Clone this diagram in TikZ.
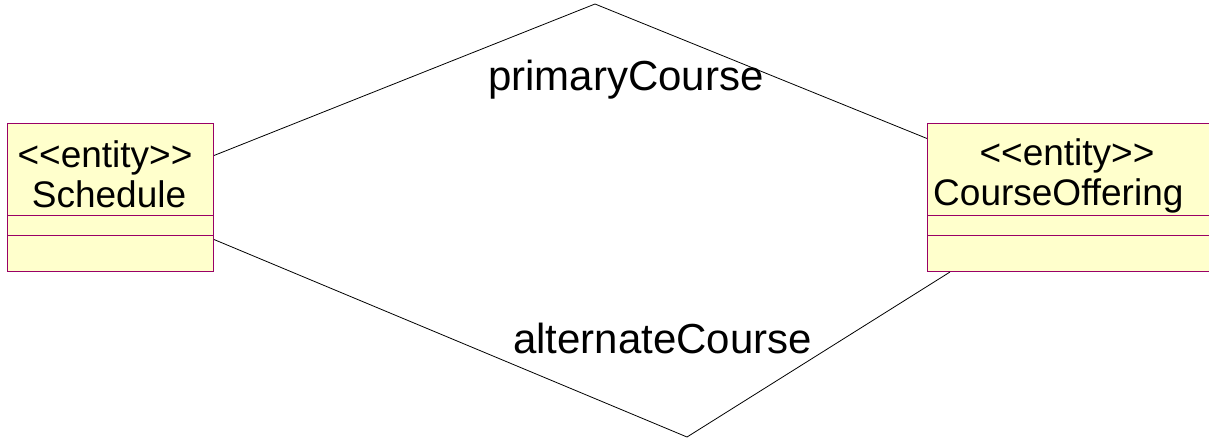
\documentclass[tikz,border=0pt]{standalone}
\usepackage{fontspec}
\setmainfont{Liberation Sans}[Ligatures=TeXOff]
\definecolor{umlfill}{RGB}{255,255,204}
\definecolor{umlborder}{RGB}{153,0,102}
\begin{document}
\begin{tikzpicture}[x=1pt,y=-1pt,
  classbox/.style={draw=umlborder,fill=umlfill,line width=1pt,inner sep=0pt,anchor=north west},
  divider/.style={draw=umlborder,line width=1pt},
  assoc/.style={draw=black,line width=0.8pt},
  classtext/.style={font=\fontsize{37}{40}\selectfont,inner sep=0pt},
  labeltext/.style={font=\fontsize{42}{46}\selectfont,inner sep=0pt,anchor=base west}]
\useasboundingbox (0,0) rectangle (1209,440);
\clip (0,0) rectangle (1209,440);
% classes
\node[classbox,minimum width=206pt,minimum height=148pt] (sched) at (7,123) {};
\node[classbox,minimum width=323pt,minimum height=148pt] (co) at (927,123) {};
\draw[divider] (sched.west |- 0,215) -- (sched.east |- 0,215);
\draw[divider] (sched.west |- 0,235) -- (sched.east |- 0,235);
\draw[divider] (co.west |- 0,215) -- (co.east |- 0,215);
\draw[divider] (co.west |- 0,235) -- (co.east |- 0,235);
% association lines
\coordinate (topapex) at (595,4);
\coordinate (botapex) at (687,437);
\draw[assoc] ([yshift=42pt]sched.east) -- (topapex) -- ([yshift=59pt]co.west);
\draw[assoc] ([yshift=-42pt]sched.east) -- (botapex) -- ([xshift=23pt]co.south west);
% class texts
\node[classtext,anchor=base] (s1) at (105,167) {<<entity>>};
\node[classtext,anchor=base] (s2) at (109,207) {Schedule};
\node[classtext,anchor=base] (c1) at (1067,165) {<<entity>>};
\node[classtext,anchor=base west] (c2) at (933,205) {CourseOffering};
% role labels
\node[labeltext] (l1) at (488,90) {primaryCourse};
\node[labeltext] (l2) at (513,353) {alternateCourse};
\end{tikzpicture}
\end{document}
